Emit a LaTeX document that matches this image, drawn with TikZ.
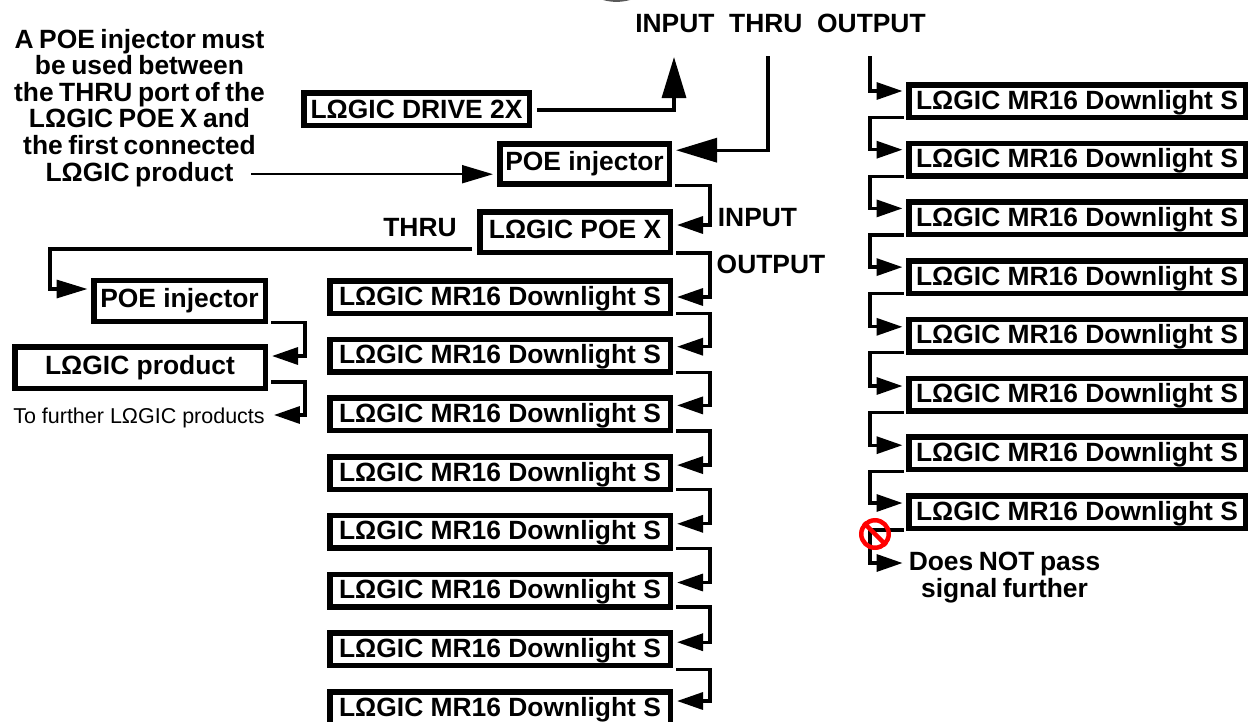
\documentclass[tikz,border=0pt]{standalone}
\usepackage{fontspec}
\setmainfont{Liberation Sans}
\newfontfamily\notefont[WordSpace=0.75]{Liberation Sans}
\usetikzlibrary{arrows.meta}
\tikzset{
	modulebox/.style={draw=black,line width=5.5pt,inner sep=0pt,text height=19pt,text depth=3pt,font=\fontsize{26.4}{26.6}\bfseries\selectfont},
	downlight/.style={modulebox,minimum height=32.5pt},
	portlabel/.style={inner sep=0pt,text height=19pt,text depth=0pt,font=\fontsize{26.4}{26.6}\bfseries\selectfont},
	notetext/.style={inner sep=0pt,align=center,font=\fontsize{26.4}{26.6}\notefont\bfseries\selectfont},
	wire/.style={line width=3.3pt,shorten <=3pt,shorten >=4pt,-{Triangle[length=26pt,width=17pt]}},
	bigwire/.style={line width=3.3pt,-{Triangle[length=41pt,width=24pt]}},
	thinwire/.style={line width=2pt,shorten >=4pt,-{Triangle[length=31pt,width=18pt]}},
}
\begin{document}
\begin{tikzpicture}[x=1pt,y=-1pt]
	\useasboundingbox (0,0) rectangle (1248,721);
	\fill[black!65] (603,0) .. controls (612,2.5) and (621,2.5) .. (630,0) -- cycle;
	\node[portlabel] (ports) at (780.5,23) {INPUT~~THRU~~OUTPUT};
	\coordinate (portinput) at (674,57);
	\coordinate (portthru) at (768,56);
	\coordinate (portoutput) at (870,56);
	\node[notetext] (note) at (139.5,107.7) {A POE injector must\\be used between\\the THRU port of the\\LΩGIC POE X and\\the first connected\\LΩGIC product};
	\node[modulebox,minimum width=225.5pt,minimum height=32.5pt,text depth=0pt] (drive) at (416.5,109) {LΩGIC DRIVE 2X};
	\node[modulebox,minimum width=169.5pt,minimum height=40pt,text depth=7pt] (injtop) at (584.5,164.2) {POE injector};
	\node[modulebox,minimum width=190.5pt,minimum height=40.5pt,text depth=7pt] (poex) at (575,232) {LΩGIC POE X};
	\node[portlabel] (labelinput) at (757.5,217) {INPUT};
	\node[portlabel] (labeloutput) at (771,263.5) {OUTPUT};
	\node[portlabel] (labelthru) at (420,227) {THRU};
	\node[modulebox,minimum width=171.5pt,minimum height=41pt,text depth=6pt] (injleft) at (179.5,301) {POE injector};
	\node[modulebox,minimum width=250.5pt,minimum height=41.5pt,text depth=6pt] (product) at (140,367.5) {LΩGIC product};
	\node[inner sep=0pt,inner xsep=5pt,font=\fontsize{21.5}{24}\selectfont] (further) at (139,418) {To further LΩGIC products};
	\node[downlight,minimum width=340.5pt] (mrleft1) at (500,297) {LΩGIC MR16 Downlight S};
	\node[downlight,minimum width=340.5pt] (mrleft2) at (500,355.7) {LΩGIC MR16 Downlight S};
	\node[downlight,minimum width=340.5pt] (mrleft3) at (500,414.4) {LΩGIC MR16 Downlight S};
	\node[downlight,minimum width=340.5pt] (mrleft4) at (500,473.1) {LΩGIC MR16 Downlight S};
	\node[downlight,minimum width=340.5pt] (mrleft5) at (500,531.8) {LΩGIC MR16 Downlight S};
	\node[downlight,minimum width=340.5pt] (mrleft6) at (500,590.5) {LΩGIC MR16 Downlight S};
	\node[downlight,minimum width=340.5pt] (mrleft7) at (500,649.2) {LΩGIC MR16 Downlight S};
	\node[downlight,minimum width=340.5pt] (mrleft8) at (500,708) {LΩGIC MR16 Downlight S};
	\node[downlight,minimum width=336.5pt] (mrright1) at (1077,101) {LΩGIC MR16 Downlight S};
	\node[downlight,minimum width=336.5pt] (mrright2) at (1077,159.7) {LΩGIC MR16 Downlight S};
	\node[downlight,minimum width=336.5pt] (mrright3) at (1077,218.4) {LΩGIC MR16 Downlight S};
	\node[downlight,minimum width=336.5pt] (mrright4) at (1077,277.1) {LΩGIC MR16 Downlight S};
	\node[downlight,minimum width=336.5pt] (mrright5) at (1077,335.8) {LΩGIC MR16 Downlight S};
	\node[downlight,minimum width=336.5pt] (mrright6) at (1077,394.5) {LΩGIC MR16 Downlight S};
	\node[downlight,minimum width=336.5pt] (mrright7) at (1077,453.2) {LΩGIC MR16 Downlight S};
	\node[downlight,minimum width=336.5pt] (mrright8) at (1077,512) {LΩGIC MR16 Downlight S};
	\node[notetext,inner xsep=5pt] (nopass) at (1004.5,577.5) {Does NOT pass\\signal further};
	\draw[bigwire,shorten <=5pt] ([yshift=-1pt]drive.east) -| (portinput);
	\draw[bigwire,shorten >=4pt] (portthru) |- ([yshift=14pt]injtop.east);
	\draw[thinwire] ([xshift=-14pt,yshift=-10pt]note.east |- injtop.west) -- ([yshift=-10pt]injtop.west);
	\draw[wire] ([yshift=1.5pt]injtop.south east) -- ++(38,0) |- ([yshift=7pt]poex.east);
	\draw[wire] ([yshift=2pt]poex.south east) -- ++(37,0) |- (mrleft1.east);
	\draw[wire,shorten <=5pt,shorten >=3.5pt,-{Triangle[length=31pt,width=18pt]}] ([yshift=6pt]poex.south west) -- ++(-427,0) |- ([yshift=12pt]injleft.west);
	\draw[wire] ([yshift=2pt]injleft.south east) -- ++(37,0) |- ([yshift=11.5pt]product.east);
	\draw[wire] ([yshift=9pt]product.south east) -- ++(37,0) |- ([yshift=3pt]further.east);
	\draw[wire] ([yshift=2.5pt]mrleft1.south east) -- ++(37,0) |- ([yshift=9pt]mrleft2.east);
	\draw[wire] ([yshift=2.5pt]mrleft2.south east) -- ++(37,0) |- ([yshift=9pt]mrleft3.east);
	\draw[wire] ([yshift=2.5pt]mrleft3.south east) -- ++(37,0) |- ([yshift=8pt]mrleft4.east);
	\draw[wire] ([yshift=2.5pt]mrleft4.south east) -- ++(37,0) |- ([yshift=8pt]mrleft5.east);
	\draw[wire] ([yshift=2.5pt]mrleft5.south east) -- ++(37,0) |- ([yshift=8pt]mrleft6.east);
	\draw[wire] ([yshift=2.5pt]mrleft6.south east) -- ++(37,0) |- ([yshift=7pt]mrleft7.east);
	\draw[wire] ([yshift=-1pt]mrleft7.south east) -- ++(37,0) |- ([yshift=7pt]mrleft8.east);
	\draw[wire,shorten <=0pt,shorten >=3.5pt] (portoutput) |- ([yshift=10pt]mrright1.west);
	\draw[wire,shorten <=2pt,shorten >=3.5pt] ([yshift=2.5pt]mrright1.south west) -- ++(-36,0) |- ([yshift=10pt]mrright2.west);
	\draw[wire,shorten <=2pt,shorten >=3.5pt] ([yshift=2.5pt]mrright2.south west) -- ++(-36,0) |- ([yshift=10pt]mrright3.west);
	\draw[wire,shorten <=2pt,shorten >=3.5pt] ([yshift=2.5pt]mrright3.south west) -- ++(-36,0) |- ([yshift=10pt]mrright4.west);
	\draw[wire,shorten <=2pt,shorten >=3.5pt] ([yshift=2.5pt]mrright4.south west) -- ++(-36,0) |- ([yshift=9pt]mrright5.west);
	\draw[wire,shorten <=2pt,shorten >=3.5pt] ([yshift=2.5pt]mrright5.south west) -- ++(-36,0) |- ([yshift=8.5pt]mrright6.west);
	\draw[wire,shorten <=2pt,shorten >=3.5pt] ([yshift=1pt]mrright6.south west) -- ++(-36,0) |- ([yshift=8pt]mrright7.west);
	\draw[wire,shorten <=2pt,shorten >=3.5pt] ([yshift=1pt]mrright7.south west) -- ++(-36,0) |- ([yshift=9pt]mrright8.west);
	\draw[wire,shorten <=2pt,shorten >=1pt] ([yshift=1pt]mrright8.south west) -- ++(-36,0) |- ([yshift=14.5pt]nopass.west);
	\node[draw=red,line width=4.5pt,circle,inner sep=0pt,minimum size=27.5pt] (nosign) at (875,534) {};
	\draw[red,line width=4.5pt] (nosign.north west) -- (nosign.south east);
\end{tikzpicture}
\end{document}
